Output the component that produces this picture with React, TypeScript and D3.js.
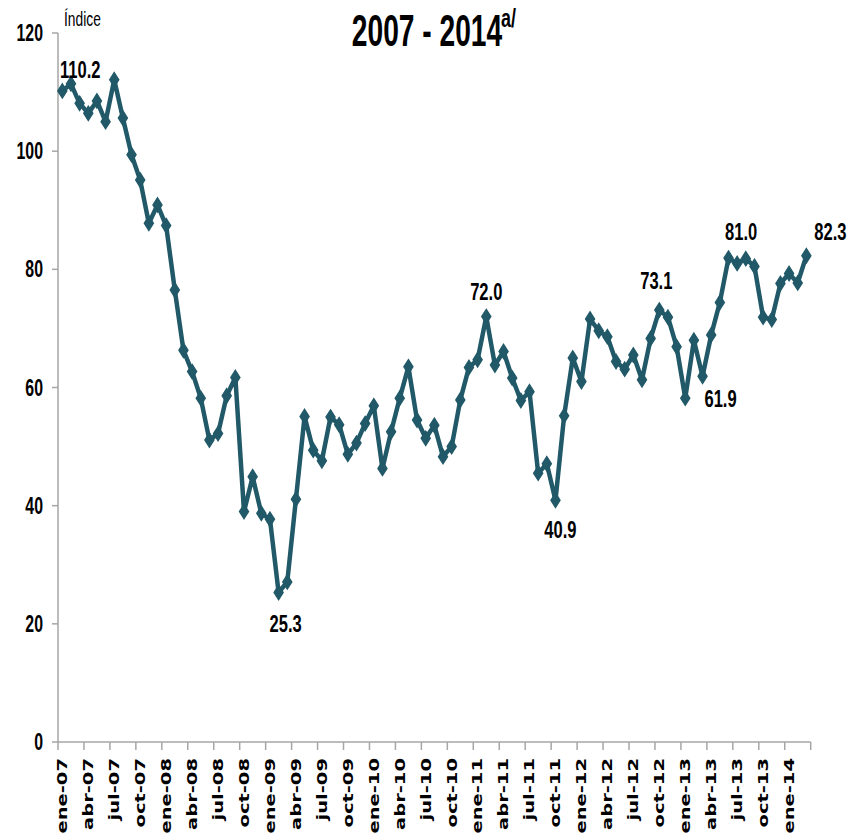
import React from "react";
import * as d3 from "d3";

const months = ["ene", "feb", "mar", "abr", "may", "jun", "jul", "ago", "sep", "oct", "nov", "dic"];
const years = [7, 8, 9, 10, 11, 12, 13, 14];

const values: number[] = [
  110.2, 111.4, 108.1, 106.4, 108.5, 105.0, 112.1, 105.6, 99.4, 95.1, 87.8, 90.9,
  87.4, 76.5, 66.3, 62.7, 58.2, 51.1, 52.2, 58.6, 61.7, 39.0, 44.9, 38.7,
  37.7, 25.3, 27.1, 41.1, 55.1, 49.4, 47.6, 55.0, 53.7, 48.7, 50.6, 53.9,
  56.9, 46.3, 52.5, 58.2, 63.5, 54.5, 51.4, 53.6, 48.3, 50.0, 57.9, 63.4,
  64.7, 72.0, 63.8, 66.1, 61.6, 57.8, 59.3, 45.5, 47.1, 40.9, 55.2, 65.0,
  61.0, 71.6, 69.6, 68.6, 64.4, 63.1, 65.5, 61.3, 68.3, 73.1, 71.9, 66.9,
  58.2, 68.0, 61.9, 68.9, 74.4, 81.9, 81.0, 81.8, 80.5, 71.9, 71.5, 77.6,
  79.3, 77.7, 82.3,
];

const categories: string[] = values.map((_, i) => {
  const y = years[Math.floor(i / 12)];
  return `${months[i % 12]}-${String(y).padStart(2, "0")}`;
});

const yTicks = [0, 20, 40, 60, 80, 100, 120];

// annotated points: index into values, label text
const annotIdx = [0, 25, 49, 57, 69, 74, 78, 86];
const annotText = ["110.2", "25.3", "72.0", "40.9", "73.1", "61.9", "81.0", "82.3"];
// label offsets (presentation)
const annotDx = [18, 7, 0, 5, -3, 18, 4, 24];
const annotDy = [-21, 31, -25, 30, -29, 23, -31, -24];

const COLOR = "#215968";
const AXIS = "#a6a6a6";
const SX = 0.69;
const FONT = "'Liberation Sans', Arial, sans-serif";

export default function App() {
  const left = 58, right = 810.7, top = 33, bottom = 742;
  const x = d3.scaleBand<string>().domain(categories).range([left, right]).paddingInner(0).paddingOuter(0);
  const y = d3.scaleLinear().domain([0, 120]).range([bottom, top]);
  const cx = (i: number) => (x(categories[i]) as number) + x.bandwidth() / 2;

  const line = d3.line<number>().x((_, i) => cx(i)).y((d) => y(d));
  const diamond = d3.symbol().type(d3.symbolDiamond).size(60)();

  const tickIdx = categories.map((_, i) => i).filter((i) => i % 3 === 0);

  const sText = (tx: number, ty: number, content: React.ReactNode, props: any = {}) => (
    <text transform={`translate(${tx},${ty}) scale(${SX},1)`} fontFamily={FONT} {...props}>
      {content}
    </text>
  );

  return (
    <svg width={858} height={836} style={{ position: "absolute", left: 0, top: 0, background: "#fff" }}>
      <rect width={858} height={836} fill="#fff" />
      {/* title */}
      <text transform={`translate(427,46) scale(0.64,1)`} fontFamily={FONT} fontWeight="bold" fontSize={44} textAnchor="middle" fill="#000">
        2007 - 2014
      </text>
      {sText(501, 27, "a/", { fontSize: 26, fontWeight: "bold", fill: "#000" })}
      {sText(64, 26, "Índice", { fontSize: 20, fill: "#000" })}

      {/* y axis */}
      <line x1={left} x2={left} y1={top} y2={bottom} stroke={AXIS} strokeWidth={1.5} />
      {yTicks.map((t) => (
        <g key={t}>
          <line x1={left - 6} x2={left} y1={y(t)} y2={y(t)} stroke={AXIS} strokeWidth={1.5} />
          {sText(43, y(t) + 8, String(t), { fontSize: 23, fontWeight: "bold", textAnchor: "end", fill: "#000" })}
        </g>
      ))}

      {/* x axis */}
      <line x1={left} x2={right} y1={bottom} y2={bottom} stroke={AXIS} strokeWidth={1.5} />
      {[...tickIdx, categories.length].map((i) => {
        const xx = i < categories.length ? (x(categories[i]) as number) : right;
        return <line key={"t" + i} x1={xx} x2={xx} y1={bottom} y2={bottom + 8} stroke={AXIS} strokeWidth={1.5} />;
      })}
      {tickIdx.map((i) => (
        <text
          key={"l" + i}
          transform={`translate(${cx(i)},758) rotate(-90) scale(1,0.7)`}
          fontFamily="'DejaVu Sans', Verdana, sans-serif"
          fontWeight="bold"
          fontSize={19.5}
          textAnchor="end"
          dominantBaseline="central"
          fill="#000"
        >
          {categories[i]}
        </text>
      ))}

      {/* line */}
      <path d={line(values) || ""} fill="none" stroke={COLOR} strokeWidth={4.5} strokeLinejoin="round" />
      {values.map((v, i) => (
        <path key={"m" + i} d={diamond || ""} transform={`translate(${cx(i)},${y(v)}) scale(1.1,1.0)`} fill={COLOR} stroke={COLOR} strokeWidth={1.2} />
      ))}

      {/* data labels */}
      {annotIdx.map((idx, k) =>
        <g key={"a" + k}>
          {sText(cx(idx) + annotDx[k], y(values[idx]) + annotDy[k] + 8, annotText[k], {
            fontSize: 24,
            fontWeight: "bold",
            textAnchor: "middle",
            fill: "#000",
          })}
        </g>
      )}
    </svg>
  );
}
